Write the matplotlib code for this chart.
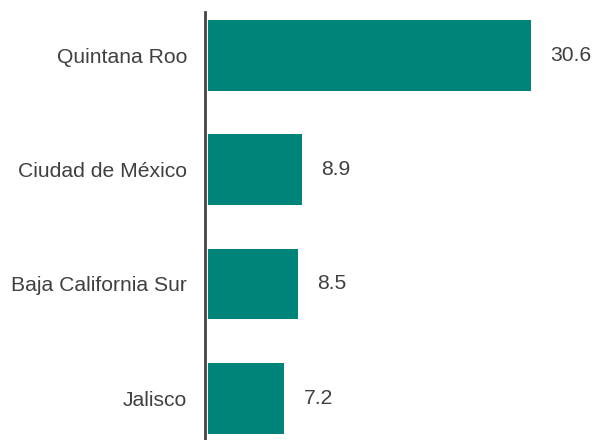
import matplotlib.pyplot as plt

plt.rcParams['font.family'] = ['Liberation Sans', 'DejaVu Sans']

states = ['Quintana Roo', 'Ciudad de México', 'Baja California Sur', 'Jalisco']
values = [30.6, 8.9, 8.5, 7.2]

bar_color = '#00847A'
text_color = '#404040'

fig = plt.figure(figsize=(6.02, 4.4), dpi=100)
ax = fig.add_axes([205 / 602, 0, 395 / 602, 1 - 12 / 440])

pos = list(range(len(states)))
ax.barh(pos, values, height=0.62, color=bar_color)

for p, v in zip(pos, values):
    ax.annotate(f'{v:.1f}', (v, p), xytext=(14, 0), textcoords='offset points',
                va='center', ha='left', fontsize=15.2, color=text_color)

ax.set_xlim(-0.284, 37.14)
ax.set_ylim(3.365, -0.379)
ax.set_yticks(pos)
ax.set_yticklabels(states, fontsize=15.2, color=text_color)
ax.tick_params(axis='y', length=0, pad=13)
ax.set_xticks([])

for side in ['top', 'right', 'bottom']:
    ax.spines[side].set_visible(False)
ax.spines['left'].set_color('#444444')
ax.spines['left'].set_linewidth(2)

fig.savefig('out.png', dpi=100)
